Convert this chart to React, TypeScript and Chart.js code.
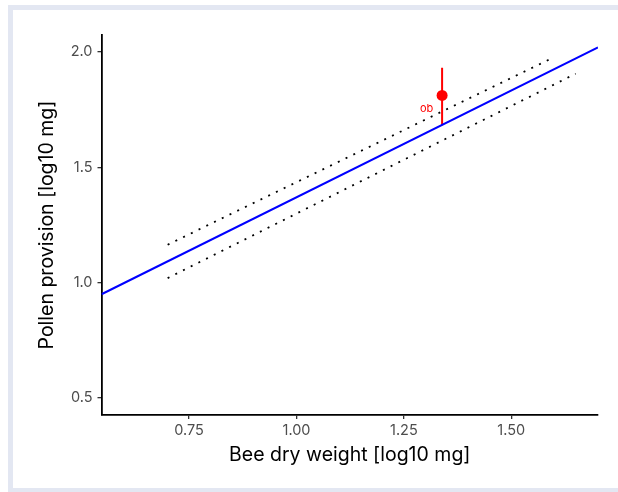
import React, { useEffect, useRef } from "react";
import { Chart, registerables } from "chart.js";

Chart.register(...registerables);

// Fitted regression line (end points in log10 units)
const fitX = [0.546, 1.702];
const fitY = [0.949, 2.02];
// Prediction interval bounds (dotted)
const upperX = [0.7, 1.6];
const upperY = [1.164, 1.978];
const lowerX = [0.7, 1.65];
const lowerY = [1.019, 1.906];
// Observed species
const obsX = [1.339];
const obsY = [1.812];
const obsLow = [1.682];
const obsHigh = [1.932];
const obsLabel = ["ob"];
// Axes
const xTicks = [0.75, 1.0, 1.25, 1.5];
const yTicks = [0.5, 1.0, 1.5, 2.0];
const xRange = [0.546, 1.702];
const yRange = [0.425, 2.074];
const xTitle = "Bee dry weight [log10 mg]";
const yTitle = "Pollen provision [log10 mg]";

const FONT = "Inter, 'Liberation Sans', Arial, sans-serif";

const pts = (xs: number[], ys: number[]) => xs.map((x, i) => ({ x, y: ys[i] }));

export default function App() {
  const ref = useRef<HTMLCanvasElement | null>(null);

  useEffect(() => {
    document.documentElement.style.overflow = "hidden";
    document.body.style.overflow = "hidden";
    const canvas = ref.current;
    if (!canvas) return;

    const textPlugin = {
      id: "textPlugin",
      afterDraw(chart: any) {
        const { ctx, chartArea, scales } = chart;
        ctx.save();
        // observation label
        ctx.fillStyle = "#ff0000";
        ctx.font = `11px ${FONT}`;
        ctx.textAlign = "center";
        ctx.textBaseline = "middle";
        obsLabel.forEach((lab, i) => {
          const px = scales.x.getPixelForValue(obsX[i]);
          const py = scales.y.getPixelForValue(obsY[i] - 0.056);
          ctx.fillText(lab, px - 15.5, py);
        });
        // axis titles
        ctx.fillStyle = "#000000";
        ctx.font = `19.5px ${FONT}`;
        ctx.textAlign = "center";
        ctx.textBaseline = "middle";
        ctx.fillText(xTitle, (chartArea.left + chartArea.right) / 2, chartArea.bottom + 40.5);
        ctx.translate(chartArea.left - 54, (chartArea.top + chartArea.bottom) / 2);
        ctx.rotate(-Math.PI / 2);
        ctx.fillText(yTitle, 0, 0);
        ctx.restore();
      },
    };

    const chart = new Chart(canvas, {
      type: "scatter",
      data: {
        datasets: [
          {
            data: pts(upperX, upperY),
            showLine: true,
            borderColor: "#000000",
            borderWidth: 1.8,
            borderDash: [2, 6.6],
            pointRadius: 0,
          },
          {
            data: pts(lowerX, lowerY),
            showLine: true,
            borderColor: "#000000",
            borderWidth: 1.8,
            borderDash: [2, 6.6],
            pointRadius: 0,
          },
          {
            data: pts(fitX, fitY),
            showLine: true,
            borderColor: "#0000ff",
            borderWidth: 2,
            pointRadius: 0,
          },
          {
            data: [
              { x: obsX[0], y: obsLow[0] },
              { x: obsX[0], y: obsHigh[0] },
            ],
            showLine: true,
            borderColor: "#ff0000",
            borderWidth: 2,
            pointRadius: 0,
          },
          {
            data: pts(obsX, obsY),
            backgroundColor: "#ff0000",
            borderColor: "#ff0000",
            pointRadius: 5.5,
            pointBorderWidth: 0,
          },
        ],
      },
      options: {
        responsive: false,
        animation: false,
        devicePixelRatio: 1,
        layout: { padding: { top: 25, right: 20, left: 0, bottom: 0 } },
        plugins: {
          legend: { display: false },
          tooltip: { enabled: false },
        },
        scales: {
          x: {
            type: "linear",
            min: xRange[0],
            max: xRange[1],
            afterBuildTicks: (s: any) => {
              s.ticks = xTicks.map((v) => ({ value: v }));
            },
            afterFit: (s: any) => {
              s.height = 73;
            },
            ticks: {
              color: "#4d4d4d",
              font: { family: FONT, size: 14.5 },
              padding: 3,
              maxRotation: 0,
              callback: (v: any) => Number(v).toFixed(2),
            },
            grid: { drawOnChartArea: false, drawTicks: true, tickLength: 4, color: "#333333", lineWidth: 1.3 },
            border: { display: true, color: "#000000", width: 1.8 },
          },
          y: {
            type: "linear",
            min: yRange[0],
            max: yRange[1],
            afterBuildTicks: (s: any) => {
              s.ticks = yTicks.map((v) => ({ value: v }));
            },
            afterFit: (s: any) => {
              s.width = 88.5;
            },
            ticks: {
              color: "#4d4d4d",
              font: { family: FONT, size: 14.5 },
              padding: 5,
              callback: (v: any) => Number(v).toFixed(1),
            },
            grid: { drawOnChartArea: false, drawTicks: true, tickLength: 4, color: "#333333", lineWidth: 1.3 },
            border: { display: true, color: "#000000", width: 1.8 },
          },
        },
      },
      plugins: [textPlugin],
    } as any);

    return () => chart.destroy();
  }, []);

  return (
    <div
      style={{
        position: "absolute",
        left: 8,
        top: 5,
        width: 605,
        height: 478,
        borderTop: "5px solid #e3e7f2",
        borderLeft: "5px solid #e3e7f2",
        borderBottom: "4px solid #e3e7f2",
        borderRight: "none",
        background: "#ffffff",
      }}
    >
      <canvas ref={ref} width={605} height={478} style={{ display: "block", width: 605, height: 478 }} />
    </div>
  );
}
